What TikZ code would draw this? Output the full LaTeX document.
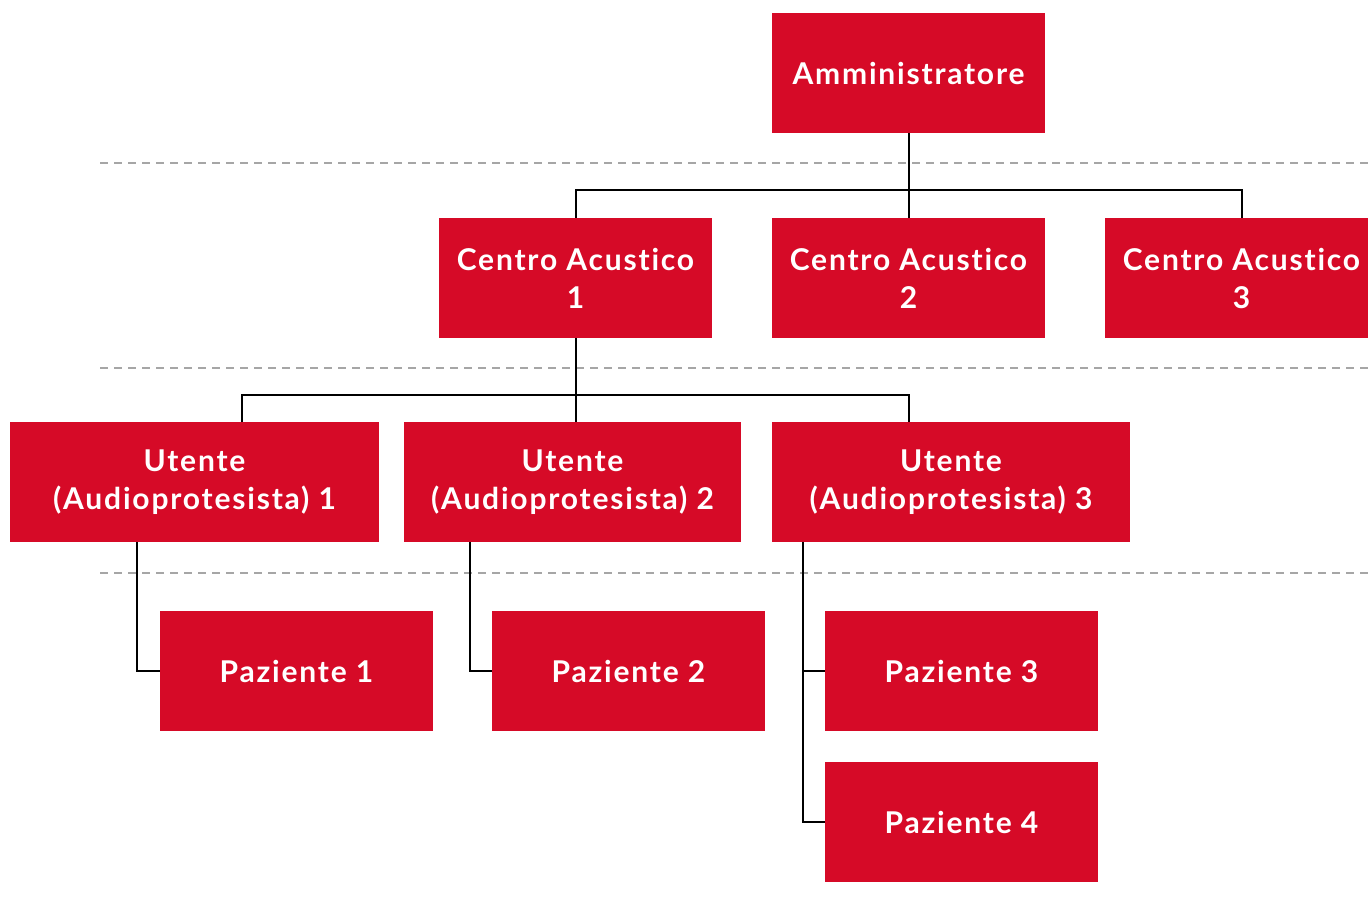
\documentclass[tikz,border=0pt]{standalone}
\usepackage{fontspec}
\setmainfont[Ligatures=NoCommon, LetterSpace=6]{Lato}
\usetikzlibrary{positioning}
\definecolor{boxred}{HTML}{D60A27}
\tikzset{
  box/.style={fill=boxred, text=white, minimum width=273bp, minimum height=120bp, inner sep=0pt, align=center, font=\fontsize{30bp}{38bp}\selectfont\bfseries},
  guide/.style={dash pattern=on 8bp off 6bp, black!35, line width=1.5bp},
  link/.style={black, line width=2bp}
}

\begin{document}
\begin{tikzpicture}[x=1bp, y=-1bp]
    \useasboundingbox (0,0) rectangle (1368,910);
    \draw [guide] (100,163) -- (1368,163);
    \draw [guide] (100,368) -- (1368,368);
    \draw [guide] (100,573) -- (1368,573);

    \node [box] (admin) at (908.5,73) {Amministratore};
    \node [box] (ca1) at (575.5,278) {Centro Acustico\\1};
    \node [box] (ca2) at (908.5,278) {Centro Acustico\\2};
    \node [box] (ca3) at (1241.5,278) {Centro Acustico\\3};

    \node [box, minimum width=369bp] (ut1) at (194.5,482) {Utente\\(Audioprotesista) 1};
    \node [box, minimum width=337bp] (ut2) at (572.5,482) {Utente\\(Audioprotesista) 2};
    \node [box, minimum width=358bp] (ut3) at (951,482) {Utente\\(Audioprotesista) 3};

    \node [box] (pz1) at (296.5,671) {Paziente 1};
    \node [box] (pz2) at (628.5,671) {Paziente 2};
    \node [box] (pz3) at (961.5,671) {Paziente 3};
    \node [box, below=31bp of pz3] (pz4) {Paziente 4};

    \coordinate (j1) at (908.5,190);
    \coordinate (j2) at (575.5,395);
    \draw [link] (admin.south) -- (ca2.north);
    \draw [link] (ca1.north) |- (j1) -| (ca3.north);
    \draw [link] (ca1.south) -- (j2);
    \draw [link] (ut1.north -| 242,0) |- (j2) -| (ut3.north -| ca2.north);
    \draw [link] (j2) -- (ut2.north -| j2);

    \draw [link] (ut1.south -| 137,0) |- (pz1.west);
    \draw [link] (ut2.south -| 470,0) |- (pz2.west);
    \draw [link] (ut3.south -| 803,0) |- (pz4.west);
    \draw [link] (pz3.west) -- (pz3.west -| 803,0);
  \end{tikzpicture}
\end{document}
